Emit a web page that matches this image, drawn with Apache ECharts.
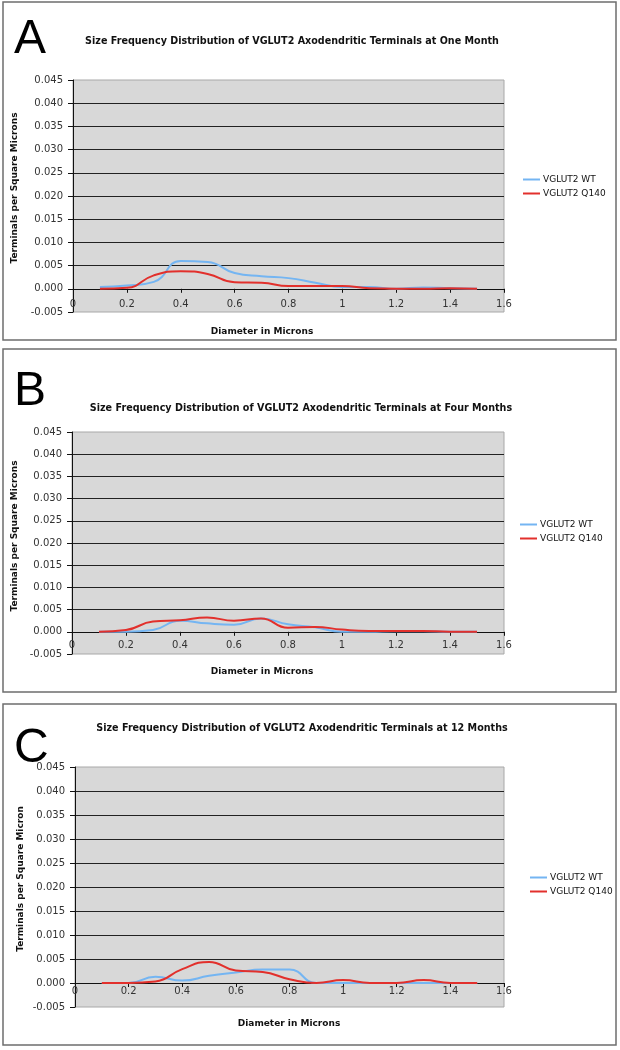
<!DOCTYPE html>
<html>
<head>
<meta charset="utf-8">
<script src="https://cdn.jsdelivr.net/npm/echarts@6/dist/echarts.min.js"></script>
<style>
html,body{margin:0;padding:0;background:#fff;}
#c{width:620px;height:1050px;}
</style>
</head>
<body>
<div id="c"></div>
<script>
// ---- data ----
var diameters = [0.1,0.2,0.3,0.4,0.5,0.6,0.7,0.8,0.9,1.0,1.1,1.2,1.3,1.4,1.5];
var oneMonthWT   = [0.0004,0.0007,0.0015,0.0060,0.0058,0.0034,0.0027,0.0023,0.0013,0.0004,0.0004,0.0000,0.0003,0.0001,0.0000];
var oneMonthQ140 = [0.0000,0.0002,0.0029,0.0038,0.0032,0.0014,0.0013,0.0006,0.0006,0.0006,0.0001,0.0000,0.0000,0.0001,0.0000];
var fourMonthWT   = [0.0000,0.0000,0.0004,0.0025,0.0019,0.0016,0.0030,0.0017,0.0010,0.0000,0.0000,0.0001,0.0001,0.0000,0.0000];
var fourMonthQ140 = [0.0000,0.0004,0.0023,0.0026,0.0032,0.0025,0.0030,0.0009,0.0011,0.0005,0.0002,0.0002,0.0002,0.0000,0.0000];
var twelveMonthWT   = [0.0000,0.0000,0.0013,0.0005,0.0015,0.0022,0.0028,0.0028,0.0000,0.0000,0.0000,0.0000,0.0000,0.0000,0.0000];
var twelveMonthQ140 = [0.0000,0.0000,0.0003,0.0029,0.0044,0.0026,0.0023,0.0008,0.0000,0.0006,0.0000,0.0000,0.0006,0.0000,0.0000];
var seriesNames = ['VGLUT2 WT','VGLUT2 Q140'];
var panelLetters = ['A','B','C'];
var panelTitles = [
  'Size Frequency Distribution of VGLUT2 Axodendritic Terminals at One Month',
  'Size Frequency Distribution of VGLUT2 Axodendritic Terminals at Four Months',
  'Size Frequency Distribution of VGLUT2 Axodendritic Terminals at 12 Months'
];
var yAxisNames = ['Terminals per Square Microns','Terminals per Square Microns','Terminals per Square Micron'];
var xAxisName = 'Diameter in Microns';
var yMin = -0.005, yMax = 0.045, yStep = 0.005;
var xMin = 0, xMax = 1.6, xStep = 0.2;

var panelData = [
  [oneMonthWT, oneMonthQ140],
  [fourMonthWT, fourMonthQ140],
  [twelveMonthWT, twelveMonthQ140]
];

// ---- layout ----
var layout = [
  {box:[3,2,613,338], grid:{left:73,top:80,width:431,height:232}, title:[292,41], letter:[14,40], yname:[15,188], xname:[262,332], legend:[523,175], xmargin:-13},
  {box:[3,349,613,343], grid:{left:72,top:432,width:432,height:222}, title:[301,408], letter:[14,392], yname:[15,536], xname:[262,672], legend:[520,520], xmargin:-14},
  {box:[3,704,613,341], grid:{left:75,top:767,width:429,height:240}, title:[302,728], letter:[14,749], yname:[21,879], xname:[289,1024], legend:[530,873], xmargin:-21}
];

var BLUE = '#74b5f2', RED = '#e2302c';
var FONT = 'DejaVu Sans';

function pairs(xs, ys){ return xs.map(function(x,i){ return [x, ys[i]]; }); }

var grids=[], xAxes=[], yAxes=[], series=[], legends=[], graphics=[];
layout.forEach(function(L, p){
  grids.push({left:L.grid.left, top:L.grid.top, width:L.grid.width, height:L.grid.height,
    show:true, backgroundColor:'#d8d8d8', borderColor:'#a8a8a8', borderWidth:1, containLabel:false});
  xAxes.push({type:'value', gridIndex:p, min:xMin, max:xMax, interval:xStep,
    axisLine:{show:true, onZero:true, lineStyle:{color:'#111', width:1}},
    axisTick:{show:true, length:4, lineStyle:{color:'#111'}},
    axisLabel:{margin:L.xmargin, color:'#333', fontFamily:FONT, fontSize:10,
      formatter:function(v){ return +v.toFixed(1) + ''; }},
    splitLine:{show:false}});
  yAxes.push({type:'value', gridIndex:p, min:yMin, max:yMax, interval:yStep,
    axisLine:{show:true, lineStyle:{color:'#111', width:1}},
    axisTick:{show:true, length:5, lineStyle:{color:'#111'}},
    axisLabel:{margin:10, color:'#333', fontFamily:FONT, fontSize:10,
      formatter:function(v){ return v.toFixed(3); }},
    splitLine:{show:true, showMinLine:false, showMaxLine:false, lineStyle:{color:'#222', width:1}}});
  var d = panelData[p];
  [BLUE, RED].forEach(function(col, k){
    series.push({name:seriesNames[k], type:'line', xAxisIndex:p, yAxisIndex:p,
      data:pairs(diameters, d[k]), smooth:0.5, showSymbol:false, symbol:'none',
      lineStyle:{color:col, width:2}, itemStyle:{color:col}, z:3+k, animation:false});
  });
  legends.push({data:seriesNames, orient:'vertical', left:L.legend[0], top:L.legend[1],
    icon:'rect', itemWidth:17, itemHeight:2, itemGap:5, padding:0,
    textStyle:{fontFamily:FONT, fontSize:9, color:'#111', padding:[0,0,0,-2]}});
  graphics.push({type:'rect', shape:{x:L.box[0], y:L.box[1], width:L.box[2], height:L.box[3]},
    style:{fill:'none', stroke:'#6e6e6e', lineWidth:1.5}, z:-1});
  graphics.push({type:'text', x:L.letter[0], y:L.letter[1],
    style:{text:panelLetters[p], fontFamily:'Liberation Sans', fontSize:48, fill:'#000',
      textAlign:'left', textVerticalAlign:'middle'}});
  graphics.push({type:'text', x:L.title[0], y:L.title[1],
    style:{text:panelTitles[p], fontFamily:FONT, fontWeight:'bold', fontSize:9.6, fill:'#111',
      textAlign:'center', textVerticalAlign:'middle'}});
  graphics.push({type:'text', x:L.yname[0], y:L.yname[1], rotation:Math.PI/2,
    style:{text:yAxisNames[p], fontFamily:FONT, fontWeight:'bold', fontSize:9, fill:'#111',
      textAlign:'center', textVerticalAlign:'middle'}});
  graphics.push({type:'text', x:L.xname[0], y:L.xname[1],
    style:{text:xAxisName, fontFamily:FONT, fontWeight:'bold', fontSize:9, fill:'#111',
      textAlign:'center', textVerticalAlign:'middle'}});
});

var chart = echarts.init(document.getElementById('c'), null, {renderer:'canvas'});
chart.setOption({
  animation:false,
  backgroundColor:'#fff',
  grid:grids, xAxis:xAxes, yAxis:yAxes, series:series, legend:legends,
  graphic:graphics
});
</script>
</body>
</html>
